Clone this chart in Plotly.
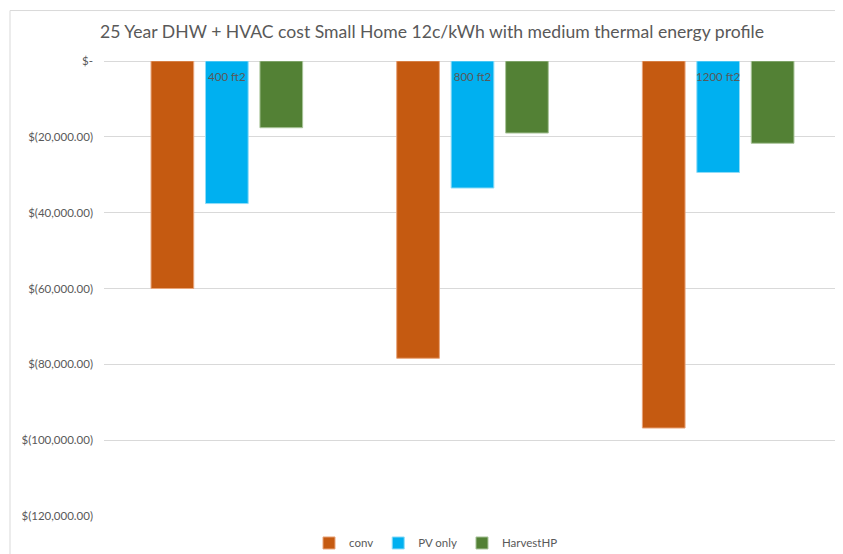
import plotly.graph_objects as go

categories = ["400 ft2", "800 ft2", "1200 ft2"]
conv = [-60000, -78400, -96800]
pv_only = [-37600, -33500, -29400]
harvest_hp = [-17600, -19000, -21700]

series_names = ["conv", "PV only", "HarvestHP"]
series_colors = ["#C55A11", "#00B0F0", "#538135"]
outline_colors = ["#E8A47A", "#8FDCF7", "#A9C49A"]

y_tickvals = [0, -20000, -40000, -60000, -80000, -100000, -120000]
y_ticktext = ["$-", "$(20,000.00)", "$(40,000.00)", "$(60,000.00)",
              "$(80,000.00)", "$(100,000.00)", "$(120,000.00)"]

title_text = "25 Year DHW + HVAC cost Small Home 12c/kWh with medium thermal energy profile"

FONT = "Lato, Carlito, Calibri, sans-serif"
GREY = "#595959"

# page is rendered with an 8px body margin, so the figure is sized/offset accordingly
W, H = 835, 546
L, R, T, B = 96, 2, 52.5, 38
PW, PH = W - L - R, H - T - B

fig = go.Figure()
for name, vals, col, oc in zip(series_names, [conv, pv_only, harvest_hp], series_colors, outline_colors):
    fig.add_trace(go.Bar(
        x=categories, y=vals, name=name,
        marker=dict(color=col, line=dict(color=oc, width=1)),
    ))

bx0 = (2 - L) / PW
by1 = (PH + T - 2) / PH
fig.update_layout(
    width=W, height=H,
    margin=dict(l=L, r=R, t=T, b=B, autoexpand=False),
    paper_bgcolor="white", plot_bgcolor="white",
    barmode="group", bargap=0.335, bargroupgap=0.216,
    title=dict(text=title_text, x=424 / W, xref="container",
               xanchor="center", y=1 - 24 / H, yref="container", yanchor="middle",
               font=dict(family=FONT, size=17.6, color=GREY)),
    font=dict(family=FONT, size=12, color=GREY),
    showlegend=True,
    legend=dict(orientation="h", x=(428 - L) / PW, xanchor="center",
                y=-27 / PH, yanchor="middle",
                font=dict(family=FONT, size=11.5, color=GREY),
                itemwidth=30, traceorder="normal"),
    xaxis=dict(side="top", showgrid=False, automargin=False,
               showline=False, ticks="", ticklabelstandoff=-23,
               tickfont=dict(family=FONT, size=11.5, color=GREY),
               range=[-0.5, 2.5]),
    yaxis=dict(range=[-120000, 0], tickvals=y_tickvals, ticktext=y_ticktext,
               automargin=False,
               showgrid=True, gridcolor="#D9D9D9", gridwidth=1,
               zeroline=True, zerolinecolor="#D9D9D9", zerolinewidth=1,
               showline=False, ticks="", ticklabelstandoff=10,
               tickfont=dict(family=FONT, size=11.5, color=GREY)),
    shapes=[
        dict(type="line", xref="paper", yref="paper", x0=bx0, x1=1.2, y0=by1, y1=by1,
             line=dict(color="#D9D9D9", width=1), layer="below"),
        dict(type="line", xref="paper", yref="paper", x0=bx0, x1=bx0, y0=-0.3, y1=by1,
             line=dict(color="#D9D9D9", width=1), layer="below"),
    ],
)

fig.write_html("out.html")
